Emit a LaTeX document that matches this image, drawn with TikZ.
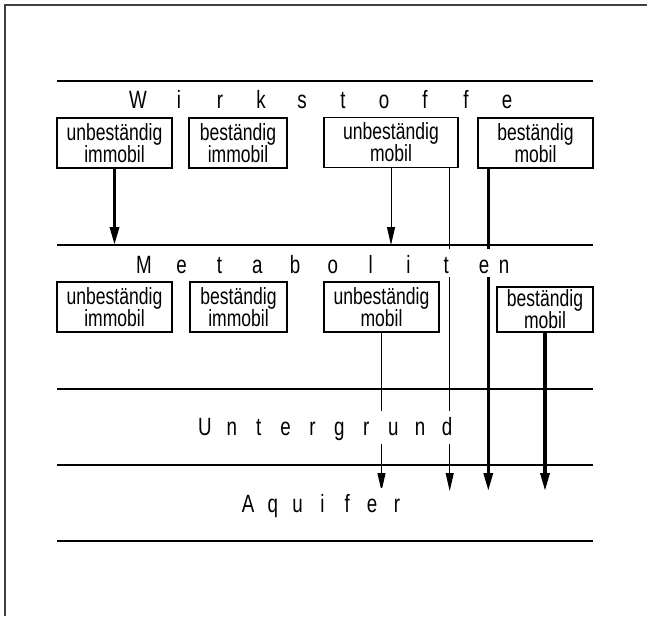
\documentclass[tikz,border=0pt]{standalone}
\usepackage{fontspec}
\setmainfont{Liberation Sans}[FakeStretch=0.75]
\usetikzlibrary{arrows.meta}

\newcommand{\sperrsatz}[2]{\foreach \c in {#2}{\makebox[#1]{\c}}}
\newcommand{\kastenschrift}{\fontsize{11.7}{11}\selectfont\lineskiplimit=-10pt\relax}

\begin{document}
\begin{tikzpicture}[x=0.5pt,y=-0.5pt,
  kasten/.style={draw,line width=0.7pt,align=center,minimum height=25pt,inner sep=1pt,font=\kastenschrift},
  schicht/.style={fill=white,inner sep=2pt,anchor=base,text height=10pt,font=\fontsize{12.5}{13}\selectfont},
  grenze/.style={line width=0.65pt},
  duenn/.style={line width=0.5pt,-{Triangle[length=9pt,width=4pt]}},
  dick/.style={line width=1.6pt,-{Triangle[length=9pt,width=4.5pt]}},
  rahmen/.style={line width=1pt,black!75}]
\useasboundingbox (0,0) rectangle (647,616);
\draw[rahmen] (5,616) |- (647,5);
% Schichtgrenzen
\coordinate (meta) at (0,245);
\coordinate (spitze) at (0,491);
\draw[grenze] (57,81) -- (593,81);
\draw[grenze] (57,245) -- (593,245);
\draw[grenze] (57,389) -- (593,389);
\draw[grenze] (57,465) -- (593,465);
\draw[grenze] (57,541) -- (593,541);
% Wirkstoffe
\node[kasten,minimum width=57.5pt] (wi1) at (114.5,143) {unbeständig\\immobil};
\node[kasten,minimum width=49pt] (wi2) at (238,143) {beständig\\immobil};
\node[kasten,minimum width=67pt] (wi3) at (391,142.5) {unbeständig\\mobil};
\node[kasten,minimum width=57.5pt] (wi4) at (535.5,143) {beständig\\mobil};
% Metaboliten
\node[kasten,minimum width=57.5pt] (me1) at (114.5,307) {unbeständig\\immobil};
\node[kasten,minimum width=48.5pt] (me2) at (238.5,307) {beständig\\immobil};
\node[kasten,minimum width=57.5pt] (me3) at (381.5,307) {unbeständig\\mobil};
\node[kasten,minimum width=48pt,minimum height=22.5pt] (me4) at (545,309.5) {beständig\\mobil};
% Pfeile
\coordinate (a3) at ([xshift=-4.5pt]wi3.south east);
\coordinate (a4) at ([xshift=5.5pt]wi4.south west);
\draw[dick] (wi1.south) -- (wi1.south |- meta);
\draw[duenn] (wi3.south) -- (wi3.south |- meta);
\draw[duenn] (a3) -- (a3 |- spitze);
\draw[dick] (a4) -- (a4 |- spitze);
\draw[duenn] (me3.south) -- (me3.south |- spitze);
\draw[dick] (me4.south) -- (me4.south |- spitze);
% Beschriftung
\node[schicht] (wirk) at (322.5,108) {\sperrsatz{20.5pt}{W,i,r,k,s,t,o,f,f,e}};
\node[schicht] (metab) at (314,273) {\sperrsatz{18.9pt}{M,e,t,a,b,o,l,i,t,e}\rlap{\hspace{-2pt}n}};
\node[schicht] (unter) at (326,435) {\sperrsatz{13.45pt}{U,n,t,e,r,g,r,u,n,d}};
\node[schicht] (aqui) at (322.5,512) {\sperrsatz{12.4pt}{A,q,u,i,f,e,r}};
\end{tikzpicture}
\end{document}
